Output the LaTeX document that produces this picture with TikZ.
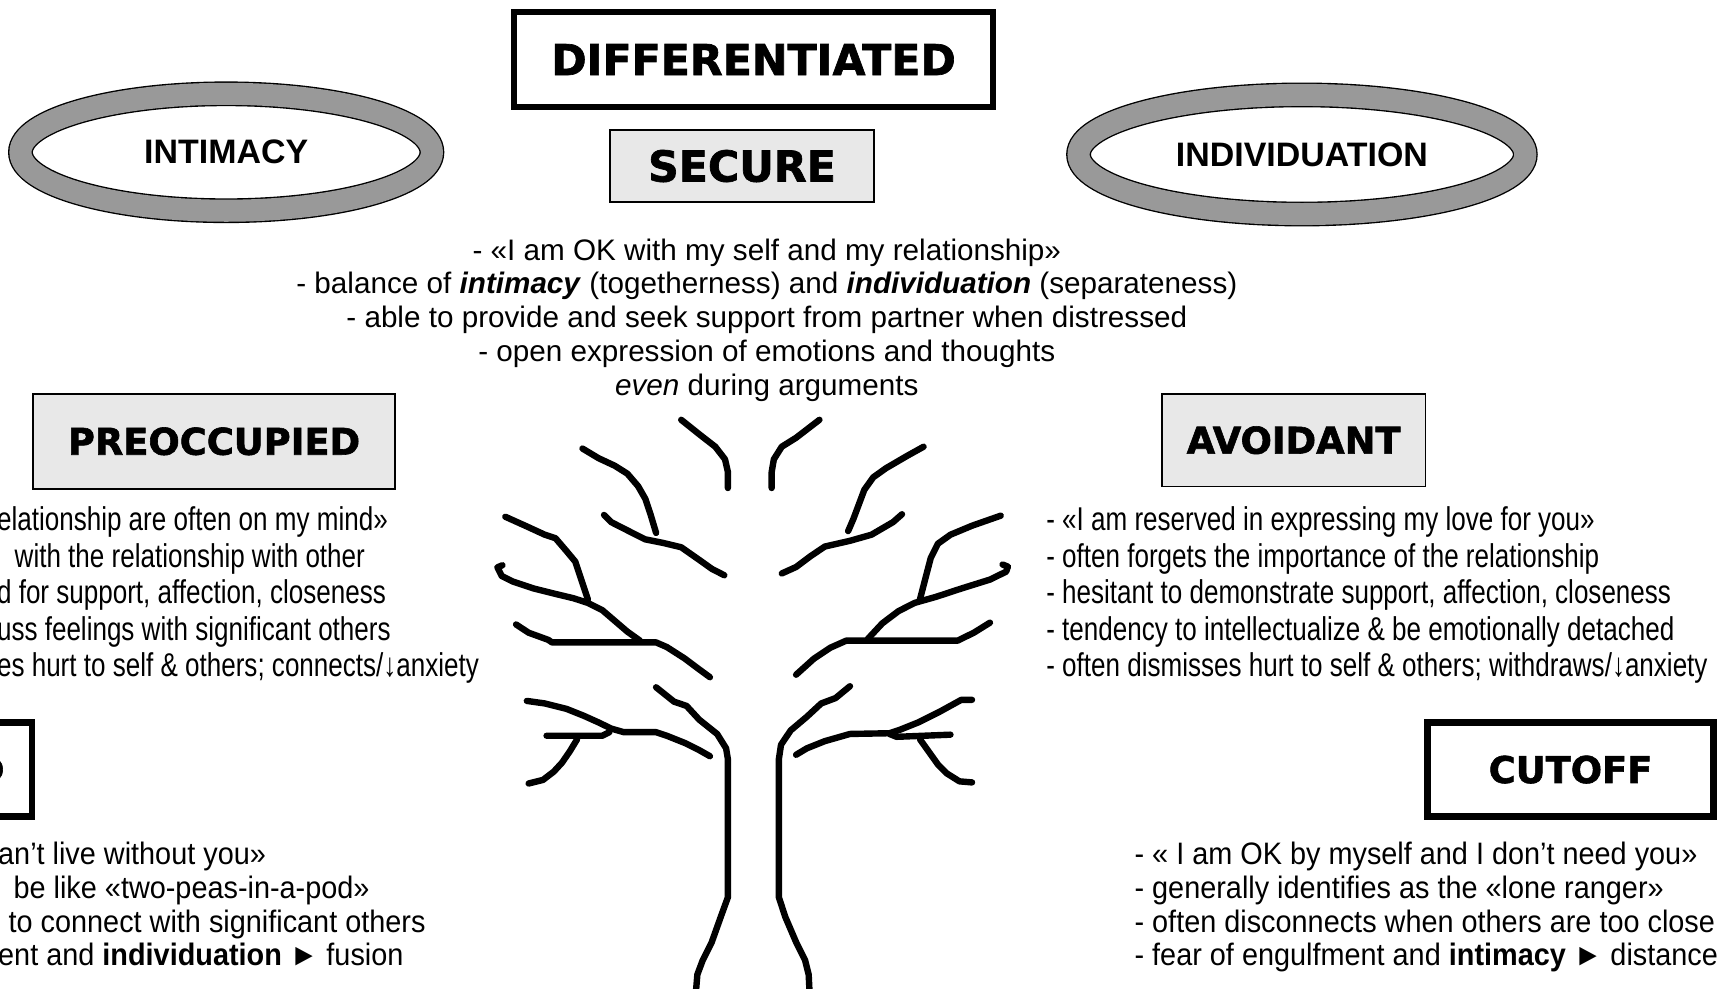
\documentclass[tikz,border=0pt]{standalone}
\usepackage{fontspec}
\setmainfont{Liberation Sans}
\newfontfamily\headfont{DejaVu Sans}[BoldFeatures={FakeBold=1.6}]
\newfontfamily\narrowfont{Liberation Sans}[FakeStretch=0.79]
\newfontfamily\slimfont{Liberation Sans}[FakeStretch=0.93]
\usetikzlibrary{shapes.geometric}

\begin{document}
\begin{tikzpicture}[x=0.02cm, y=-0.02cm,
	headbox/.style={draw, line width=3.4pt, rectangle, inner sep=0pt, font=\headfont\bfseries\fontsize{19}{23}\selectfont},
	shadebox/.style={draw, line width=0.8pt, fill=black!9, rectangle, inner sep=0pt, font=\headfont\bfseries\fontsize{19}{23}\selectfont},
	bighead/.style={font=\headfont\bfseries\fontsize{22}{26}\selectfont},
	ring/.style={draw, ellipse, line width=0.7pt, double=black!40, double distance=0.4cm, inner sep=0pt, font=\bfseries\fontsize{17.5}{20}\selectfont},
	midtext/.style={align=center, inner sep=0pt, anchor=north, font=\fontsize{15.3}{17.4}\selectfont},
	narrowlist/.style={align=left, inner sep=0pt, anchor=north west, font=\narrowfont\fontsize{17}{18.8}\selectfont},
	slimlist/.style={align=left, inner sep=0pt, anchor=north west, font=\slimfont\fontsize{16}{17.4}\selectfont},
	twig/.style={line width=3.3pt, line cap=round, line join=round}]
	
	\useasboundingbox (0,0) rectangle (1568,896);
	
	% Boxes
	\node[headbox, bighead, minimum width=8.68cm, minimum height=1.72cm] (diff) at (683,54) {DIFFERENTIATED};
	\node[shadebox, bighead, minimum width=4.78cm, minimum height=1.3cm] (secure) at (672.5,150.5) {SECURE};
	\node[shadebox, minimum width=6.56cm, minimum height=1.72cm] (preocc) at (194,400) {PREOCCUPIED};
	\node[shadebox, minimum width=4.78cm, minimum height=1.68cm] (avoid) at (1172.5,399) {AVOIDANT};
	\node[headbox, minimum width=5.18cm, minimum height=1.7cm] (cutoff) at (1423.5,697.5) {CUTOFF};
	\node[headbox, minimum width=5.18cm, minimum height=1.7cm] (enmesh) at (-100.5,697.5) {ENMESHED};
	
	% Rings
	\node[ring, minimum width=7.46cm, minimum height=2.12cm] (intim) at (205,138) {INTIMACY};
	\node[ring, minimum width=8.1cm, minimum height=2.16cm] (indiv) at (1180,140) {INDIVIDUATION};
	
	% Texts
	\node[midtext] (sectext) at (695,216) {- «I am OK with my self and my relationship»\\
		- balance of \textbf{\textit{intimacy}} (togetherness) and \textbf{\textit{individuation}} (separateness)\\
		- able to provide and seek support from partner when distressed\\
		- open expression of emotions and thoughts\\
		\textit{even} during arguments};
	\node[narrowlist] (pretext) at (-3,459) {elationship are often on my mind»\\
		\hspace*{0.32cm}with the relationship with other\\
		d for support, affection, closeness\\
		uss feelings with significant others\\
		es hurt to self \& others; connects/↓anxiety};
	\node[narrowlist] (avotext) at (948,459) {- «I am reserved in expressing my love for you»\\
		- often forgets the importance of the relationship\\
		- hesitant to demonstrate support, affection, closeness\\
		- tendency to intellectualize \& be emotionally detached\\
		- often dismisses hurt to self \& others; withdraws/↓anxiety};
	\node[slimlist] (enmtext) at (-2,763) {an’t live without you»\\
		\hspace*{0.28cm}be like «two-peas-in-a-pod»\\
		\hspace*{0.19cm}to connect with significant others\\
		ent and \textbf{individuation} ► fusion};
	\node[slimlist] (cuttext) at (1028,763) {- « I am OK by myself and I don’t need you»\\
		- generally identifies as the «lone ranger»\\
		- often disconnects when others are too close\\
		- fear of engulfment and \textbf{intimacy} ► distance};
	
	% Tree
	\begin{scope}[shift={(435.2,362.6)}, scale=0.3254]
		\draw[twig] (560,55) -- (610,95) -- (655,130) -- (682,165) -- (690,200) -- (690,245);
		\draw[twig] (945,55) -- (880,105) -- (840,130) -- (818,165) -- (812,200) -- (812,245);
		\draw[twig] (285,135) -- (330,162) -- (375,183) -- (410,205) -- (440,240) -- (460,275) -- (475,320) -- (490,370);
		\draw[twig] (345,320) -- (365,340) -- (420,368) -- (460,388) -- (510,398) -- (560,410) -- (610,445) -- (645,470) -- (680,488);
		\draw[twig] (1235,130) -- (1190,155) -- (1130,190) -- (1095,215) -- (1070,250) -- (1055,290) -- (1040,330) -- (1025,365);
		\draw[twig] (1175,318) -- (1150,340) -- (1090,375) -- (1030,392) -- (960,408) -- (920,435) -- (880,465) -- (840,483);
		\draw[twig] (62,460) -- (48,466) -- (60,490) -- (90,505) -- (150,525) -- (210,540) -- (260,552) -- (300,565) -- (340,585) -- (375,615) -- (410,645) -- (445,670);
		\draw[twig] (70,325) -- (130,352) -- (180,375) -- (210,385) -- (240,420) -- (265,450) -- (285,510) -- (300,555);
		\draw[twig] (100,625) -- (135,648) -- (190,668) -- (200,675) -- (490,675) -- (520,688) -- (570,720) -- (610,750) -- (640,772);
		\draw[twig] (1420,620) -- (1375,648) -- (1330,670) -- (1020,670) -- (975,690) -- (930,720) -- (880,765);
		\draw[twig] (1080,665) -- (1120,622) -- (1165,588) -- (1210,565) -- (1270,548) -- (1340,525) -- (1420,500) -- (1465,478) -- (1470,464) -- (1455,458);
		\draw[twig] (1225,555) -- (1238,505) -- (1255,440) -- (1275,400) -- (1310,375) -- (1370,350) -- (1450,322);
		\draw[twig] (130,838) -- (180,845) -- (240,860) -- (290,880) -- (330,898) -- (365,915) -- (400,925) -- (490,925) -- (520,935) -- (570,955) -- (610,975) -- (640,992);
		\draw[twig] (185,935) -- (340,935) -- (360,925);
		\draw[twig] (270,945) -- (250,978) -- (228,1010) -- (205,1035) -- (175,1058) -- (135,1068);
		\draw[twig] (490,800) -- (540,840) -- (575,852) -- (610,890) -- (660,930) -- (685,970) -- (690,1000) -- (690,1385) -- (670,1440) -- (645,1510) -- (620,1560) -- (605,1600) -- (600,1660);
		\draw[twig] (1030,797) -- (990,830) -- (950,845) -- (910,882) -- (865,920) -- (838,960) -- (832,1000) -- (832,1385) -- (850,1440) -- (880,1510) -- (905,1560) -- (915,1600) -- (918,1660);
		\draw[twig] (1370,835) -- (1340,835) -- (1280,868) -- (1220,898) -- (1170,918) -- (1140,928) -- (1030,930) -- (960,950) -- (910,970) -- (880,988);
		\draw[twig] (1140,930) -- (1160,938) -- (1310,932);
		\draw[twig] (1225,945) -- (1250,980) -- (1275,1015) -- (1300,1040) -- (1335,1062) -- (1370,1065);
	\end{scope}
	
\end{tikzpicture}
\end{document}
